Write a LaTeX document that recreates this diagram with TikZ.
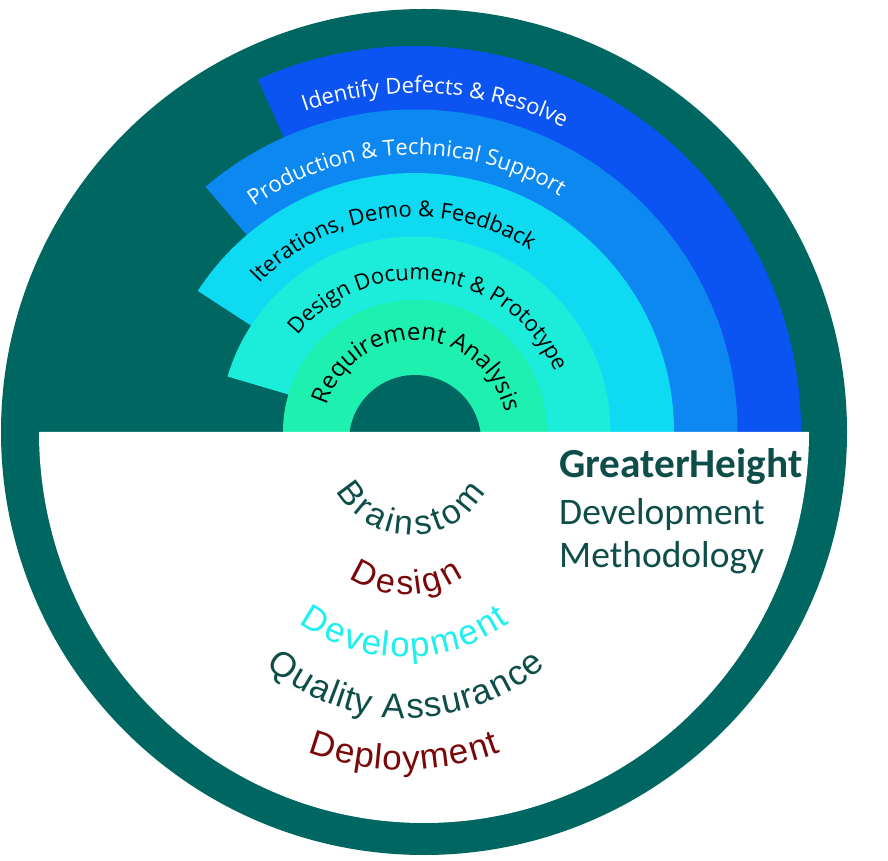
\documentclass[tikz,border=0pt]{standalone}
\usepackage{fontspec}
\usetikzlibrary{calc,positioning,decorations.text}

\newfontfamily\bandfont{Open Sans}
\newfontfamily\arcfont{Liberation Sans}
\newfontfamily\titlefont{Carlito}

\definecolor{ring}{RGB}{0,102,97}
\definecolor{reqband}{RGB}{30,240,176}
\definecolor{designband}{RGB}{28,236,218}
\definecolor{iterband}{RGB}{14,218,242}
\definecolor{prodband}{RGB}{12,136,240}
\definecolor{defectband}{RGB}{12,84,242}
\definecolor{darkteal}{RGB}{14,78,74}
\definecolor{darkred}{RGB}{122,8,8}
\definecolor{devcyan}{RGB}{30,240,240}

\newcommand{\bandwhite}[1]{\bandfont\fontsize{#1}{#1}\selectfont\color{white}}
\newcommand{\bandblack}[1]{\bandfont\fontsize{#1}{#1}\selectfont\color{black}}
\newcommand{\arcstyle}[2]{\arcfont\fontsize{#1}{#1}\selectfont\color{#2}}

\begin{document}
\begin{tikzpicture}[x=1pt,y=1pt,
  band label/.style={decorate,decoration={text along path,text align=center,text={#1}}},
  stage label/.style={decorate,decoration={text along path,text align=center,raise=-16pt,text={#1}}},
  title node/.style={inner sep=0pt,anchor=base west,text=darkteal,
    font=\titlefont\fontsize{37.5}{37.5}\selectfont}]
  \useasboundingbox (0,0) rectangle (888,860);
  \fill[white] (0,0) rectangle (888,860);

  % disc and bands
  \coordinate (o) at (424,428);
  \coordinate (c) at (415,428);
  \fill[ring] (o) circle[radius=423];
  \fill[defectband] (c) -- ($(c)+(0:386)$) arc[start angle=0,end angle=114,radius=386] -- cycle;
  \fill[prodband] (c) -- ($(c)+(0:322.5)$) arc[start angle=0,end angle=130.5,radius=322.5] -- cycle;
  \fill[iterband] (c) -- ($(c)+(0:259)$) arc[start angle=0,end angle=147,radius=259] -- cycle;
  \fill[designband] (c) -- ($(c)+(0:195.5)$) arc[start angle=0,end angle=163.5,radius=195.5] -- cycle;
  \fill[reqband] (c) -- ($(c)+(0:132)$) arc[start angle=0,end angle=180,radius=132] -- cycle;
  \coordinate (hole) at (415,419);
  \fill[ring] (hole) circle[radius=66];
  \fill[white] ($(o)+(-385,0)$) arc[start angle=180,end angle=360,x radius=385,y radius=391] -- cycle;

  % band labels
  \path[band label={|\bandwhite{22}|Identify Defects {\&} Resolve}]
    ($(c)+(156.5:339)$) arc[start angle=156.5,end angle=16.5,radius=339];
  \path[band label={|\bandwhite{22}|Production {\&} Technical Support}]
    ($(c)+(162:277)$) arc[start angle=162,end angle=22,radius=277];
  \path[band label={|\bandblack{22}|Iterations, Demo {\&} Feedback}]
    ($(c)+(167:215)$) arc[start angle=167,end angle=27,radius=215];
  \path[band label={|\bandblack{22}|Design Document {\&} Prototype}]
    ($(c)+(172:152)$) arc[start angle=172,end angle=-8,radius=152];
  \path[band label={|\bandblack{24}|Requirement Analysis}]
    ($(c)+(177.5:92)$) arc[start angle=177.5,end angle=-2.5,radius=92];

  % curved stages
  \coordinate (brain) at (411,411);
  \coordinate (design) at (406,366);
  \coordinate (devel) at (404,384);
  \coordinate (qa) at (406,357);
  \coordinate (deploy) at (404,363);
  \path[stage label={|\arcstyle{34}{darkteal}|Brainstom}]
    ($(brain)+(190:70)$) arc[start angle=190,end angle=350,radius=70];
  \path[stage label={|\arcstyle{34}{darkred}|Design}]
    ($(design)+(190:85)$) arc[start angle=190,end angle=350,radius=85];
  \path[stage label={|\arcstyle{35}{devcyan}|Development}]
    ($(devel)+(190:165)$) arc[start angle=190,end angle=350,radius=165];
  \path[stage label={|\arcstyle{35}{darkteal}|Quality Assurance}]
    ($(qa)+(190:199)$) arc[start angle=190,end angle=350,radius=199];
  \path[stage label={|\arcstyle{35}{darkred}|Deployment}]
    ($(deploy)+(190:257)$) arc[start angle=190,end angle=350,radius=257];

  % title
  \node[title node,font=\titlefont\bfseries\fontsize{41.3}{41.3}\selectfont] (gh) at (559,382) {GreaterHeight};
  \node[title node] (dev) at ([yshift=-46]gh.base west) {Development};
  \node[title node] (meth) at ([yshift=-43]dev.base west) {Methodology};
\end{tikzpicture}
\end{document}
